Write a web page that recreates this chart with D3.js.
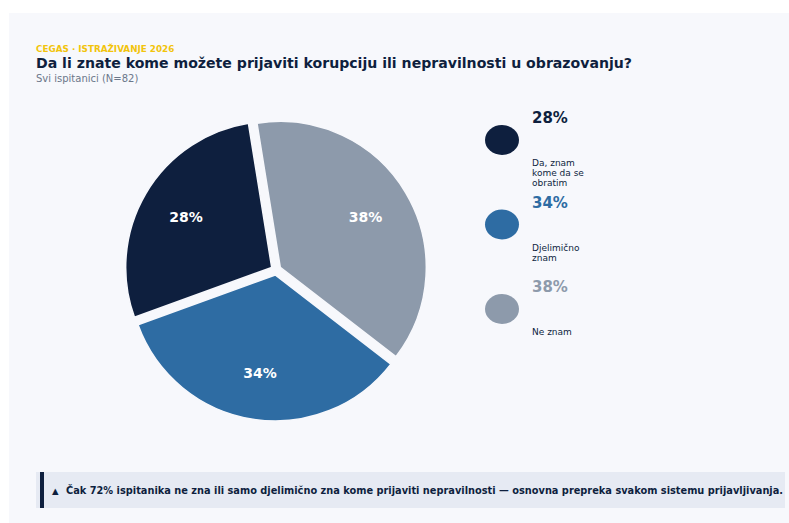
<!DOCTYPE html>
<html>
<head>
<meta charset="utf-8">
<script src="https://cdnjs.cloudflare.com/ajax/libs/d3/7.8.5/d3.min.js"></script>
<style>
  body { margin: 0; background: #ffffff; }
  svg { display: block; font-family: "DejaVu Sans", sans-serif; }
</style>
</head>
<body>
<svg id="chart"></svg>
<script>
/* data */
const categories = ["Da, znam kome da se obratim", "Djelimično znam", "Ne znam"];
const labelLines = [["Da, znam", "kome da se", "obratim"], ["Djelimično", "znam"], ["Ne znam"]];
const values = [28, 34, 38];
const colors = ["#0e1f3e", "#2e6ca3", "#8d9aab"];

const kicker = "CEGAS · ISTRAŽIVANJE 2026";
const title = "Da li znate kome možete prijaviti korupciju ili nepravilnosti u obrazovanju?";
const subtitle = "Svi ispitanici (N=82)";
const note = "Čak 72% ispitanika ne zna ili samo djelimično zna kome prijaviti nepravilnosti — osnovna prepreka svakom sistemu prijavljivanja.";

/* chart */
!(function() {
  let width = 789;
  let height = 523;

  let svg = d3.select("#chart")
    .attr("width", width)
    .attr("height", height);

  // card
  svg.append("rect")
    .attr("x", 9).attr("y", 13)
    .attr("width", width - 9).attr("height", height - 13)
    .attr("fill", "#f7f8fc");

  // header
  svg.append("text")
    .attr("x", 36).attr("y", 52)
    .attr("font-size", 8.8).attr("font-weight", "bold")
    .attr("fill", "#f2c40c")
    .text(kicker);

  svg.append("text")
    .attr("x", 36).attr("y", 68)
    .attr("font-size", 14.1).attr("font-weight", "bold")
    .attr("fill", "#0e1f3e")
    .text(title);

  svg.append("text")
    .attr("x", 36).attr("y", 82)
    .attr("font-size", 10)
    .attr("fill", "#6b778a")
    .text(subtitle);

  // pie
  let cx = 276, cy = 270, radius = 146, explode = 5;

  let pie = d3.pie()
    .sort((a, b) => b - a)
    .startAngle(-0.16)
    .endAngle(-0.16 + 2 * Math.PI)
    .value(d => d);

  let arc = d3.arc()
    .innerRadius(0)
    .outerRadius(radius);

  let labelArc = d3.arc()
    .innerRadius(radius * 0.68)
    .outerRadius(radius * 0.68);

  let g = svg.append("g")
    .attr("transform", "translate(" + cx + "," + cy + ")");

  let slices = g.selectAll(".arc")
    .data(pie(values))
    .enter().append("g")
    .attr("class", "arc")
    .attr("transform", d => {
      let a = (d.startAngle + d.endAngle) / 2;
      return "translate(" + (Math.sin(a) * explode) + "," + (-Math.cos(a) * explode) + ")";
    });

  slices.append("path")
    .attr("d", arc)
    .attr("fill", (d, i) => colors[i])
    .attr("stroke", "#f7f8fc")
    .attr("stroke-width", 1.5);

  slices.append("text")
    .attr("transform", d => "translate(" + labelArc.centroid(d) + ")")
    .attr("dy", ".35em")
    .attr("text-anchor", "middle")
    .attr("font-size", 14).attr("font-weight", "bold")
    .attr("fill", "#ffffff")
    .text(d => d.data + "%");

  // legend
  let legend = svg.selectAll(".legend")
    .data(values)
    .enter().append("g")
    .attr("class", "legend")
    .attr("transform", (d, i) => "translate(0," + (i * 84.5) + ")");

  legend.append("ellipse")
    .attr("cx", 502).attr("cy", 140)
    .attr("rx", 17).attr("ry", 15)
    .attr("fill", (d, i) => colors[i]);

  legend.append("text")
    .attr("x", 532).attr("y", 123)
    .attr("font-size", 15).attr("font-weight", "bold")
    .attr("fill", (d, i) => colors[i])
    .text(d => d + "%");

  legend.append("text")
    .attr("x", 532).attr("y", 166)
    .attr("font-size", 9)
    .attr("fill", "#0e1f3e")
    .selectAll("tspan")
    .data((d, i) => labelLines[i])
    .enter().append("tspan")
    .attr("x", 532)
    .attr("dy", (d, j) => j === 0 ? 0 : 10.2)
    .text(d => d);

  // note box
  svg.append("rect")
    .attr("x", 36).attr("y", 472)
    .attr("width", 749).attr("height", 36)
    .attr("fill", "#e6eaf3");

  svg.append("rect")
    .attr("x", 40).attr("y", 472)
    .attr("width", 4).attr("height", 36)
    .attr("fill", "#0e1f3e");

  svg.append("text")
    .attr("x", 52).attr("y", 494)
    .attr("font-size", 8.5)
    .attr("fill", "#0e1f3e")
    .text("▲");

  svg.append("text")
    .attr("x", 66).attr("y", 494)
    .attr("font-size", 9.8).attr("font-weight", "bold")
    .attr("fill", "#0e1f3e")
    .text(note);
})();
</script>
</body>
</html>
